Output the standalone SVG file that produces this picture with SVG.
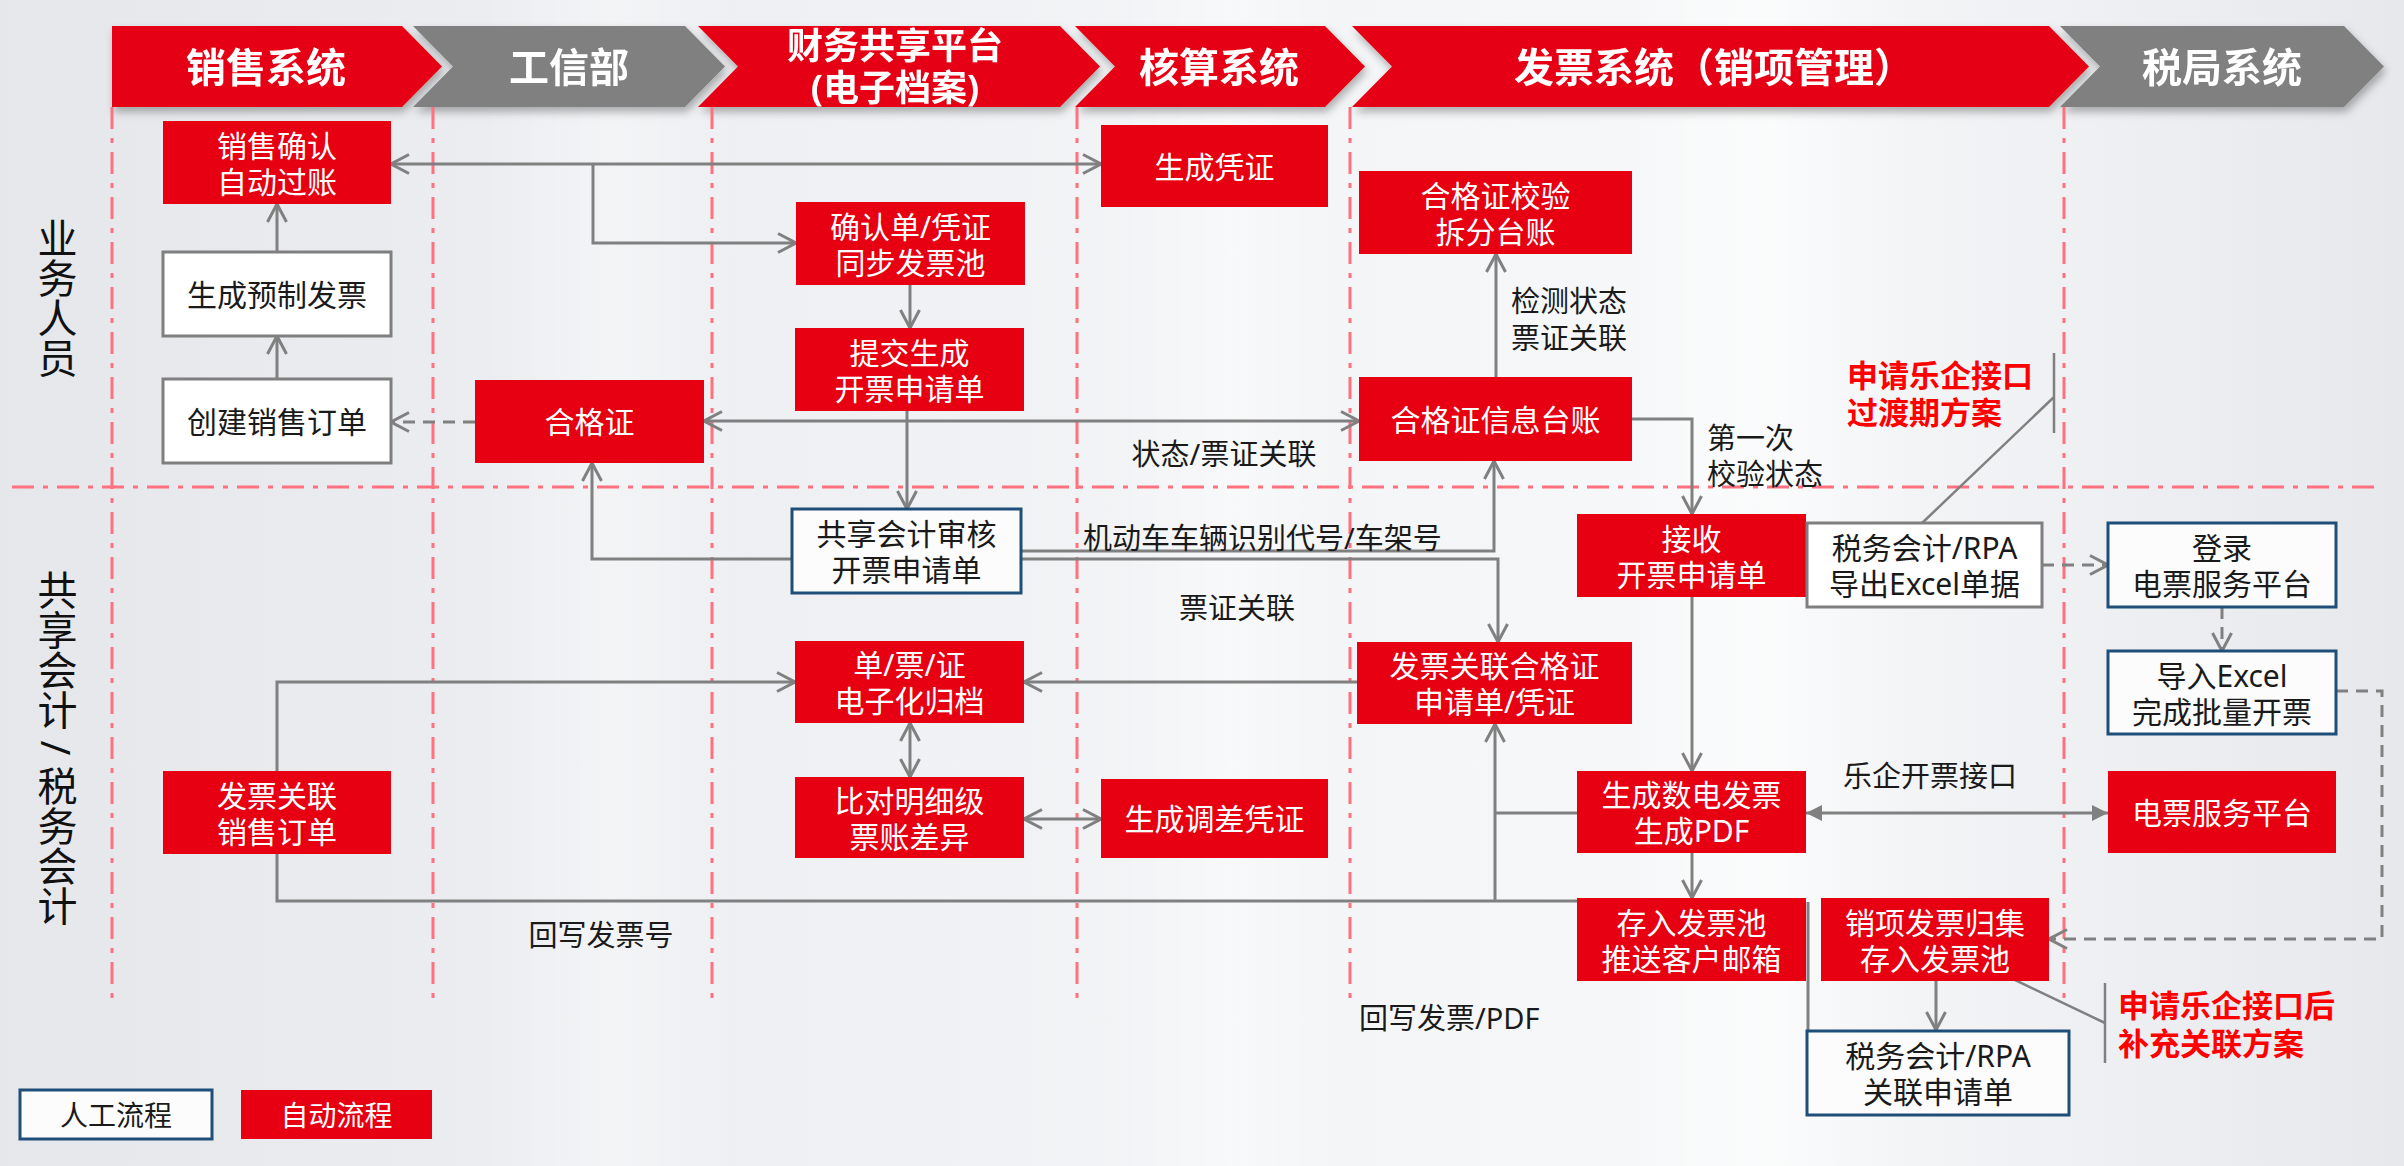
<svg xmlns="http://www.w3.org/2000/svg" width="2404" height="1166" viewBox="0 0 2404 1166">
<defs>
<linearGradient id="bg" x1="0" y1="0" x2="1" y2="0">
<stop offset="0" stop-color="#e5e7eb"/>
<stop offset="0.25" stop-color="#eceef1"/>
<stop offset="0.5" stop-color="#f3f4f6"/>
<stop offset="0.72" stop-color="#f7f8f9"/>
<stop offset="0.9" stop-color="#eceef1"/>
<stop offset="1" stop-color="#e6e8ec"/>
</linearGradient>
<linearGradient id="glow" x1="0" y1="0" x2="1" y2="0">
<stop offset="0" stop-color="#ffffff" stop-opacity="0"/>
<stop offset="0.5" stop-color="#ffffff" stop-opacity="0.7"/>
<stop offset="1" stop-color="#ffffff" stop-opacity="0"/>
</linearGradient>
<filter id="sh" x="-5%" y="-20%" width="110%" height="150%">
<feDropShadow dx="2" dy="5" stdDeviation="4" flood-color="#000" flood-opacity="0.3"/>
</filter>
<marker id="ao" viewBox="0 0 20 22" refX="19" refY="11" markerWidth="20" markerHeight="22" markerUnits="userSpaceOnUse" orient="auto-start-reverse">
<path d="M1,1.5 L19,11 L1,20.5" fill="none" stroke="#808080" stroke-width="3"/>
</marker>
<marker id="af" viewBox="0 0 16 16" refX="16" refY="8" markerWidth="16" markerHeight="16" markerUnits="userSpaceOnUse" orient="auto-start-reverse">
<path d="M0,0 L16,8 L0,16 Z" fill="#808080"/>
</marker>
<style>
text{font-family:"Noto Sans","Noto Sans CJK SC",sans-serif;}
.hd{fill:#fff;font-size:40px;font-weight:bold;text-anchor:middle;dominant-baseline:central;}
.hd2{fill:#fff;font-size:36px;font-weight:bold;text-anchor:middle;dominant-baseline:central;}
.r{fill:#E60012;}
.g{fill:#808080;}
.wg{fill:#ffffff;stroke:#7f7f7f;stroke-width:3;}
.wb{fill:#fcfcfc;stroke:#1F4E79;stroke-width:3;}
.tw{fill:#ffffff;font-size:30px;text-anchor:middle;dominant-baseline:central;}
.tk{fill:#1a1a1a;font-size:30px;text-anchor:middle;dominant-baseline:central;}
.lb{fill:#1a1a1a;font-size:29px;dominant-baseline:central;}
.lbm{fill:#1a1a1a;font-size:29px;text-anchor:middle;dominant-baseline:central;}
.rd{fill:#FF0000;font-size:31px;font-weight:bold;dominant-baseline:central;}
.lane{fill:#111;font-size:40px;writing-mode:vertical-rl;text-anchor:middle;}
.c{fill:none;stroke:#808080;stroke-width:3;}
.cd{fill:none;stroke:#808080;stroke-width:3;stroke-dasharray:12 8;}
.sep{fill:none;stroke:#FF717F;stroke-width:3;stroke-dasharray:22 9 5 9;}
.an{fill:none;stroke:#808080;stroke-width:2.5;}
</style>
</defs>

<rect x="0" y="0" width="2404" height="1166" fill="url(#bg)"/>
<rect x="480" y="0" width="260" height="1166" fill="url(#glow)" opacity="0.5"/>
<rect x="1120" y="0" width="220" height="1166" fill="url(#glow)" opacity="0.6"/>
<rect x="1620" y="0" width="300" height="1166" fill="url(#glow)" opacity="0.7"/>

<g id="header" filter="url(#sh)">
<g id="h1"><path class="r" d="M112,26 H402 L442,66.5 L402,107 H112 Z"/><text class="hd" x="266" y="66">销售系统</text></g>
<g id="h2"><path class="g" d="M413,26 H685 L725,66.5 L685,107 H413 L453,66.5 Z"/><text class="hd" x="569" y="66">工信部</text></g>
<g id="h3"><path class="r" d="M698,26 H1060 L1100,66.5 L1060,107 H698 L738,66.5 Z"/><text class="hd2" x="895" y="45"><tspan x="895" y="45">财务共享平台</tspan><tspan x="895" y="87">(电子档案)</tspan></text></g>
<g id="h4"><path class="r" d="M1075,26 H1325 L1365,66.5 L1325,107 H1075 L1115,66.5 Z"/><text class="hd" x="1219" y="66">核算系统</text></g>
<g id="h5"><path class="r" d="M1352,26 H2049 L2089,66.5 L2049,107 H1352 L1392,66.5 Z"/><text class="hd" x="1714" y="66">发票系统（销项管理）</text></g>
<g id="h6"><path class="g" d="M2060,26 H2344 L2384,66.5 L2344,107 H2060 L2100,66.5 Z"/><text class="hd" x="2222" y="66">税局系统</text></g>
</g>

<g id="lanes">
<path class="sep" d="M112,107 V1005 M433,107 V1005 M712,107 V1005 M1077,107 V1005 M1350,107 V1005 M2064,107 V1005"/>
<path class="sep" d="M12,487 H2380"/>
<text class="lane" x="56" y="298">业务人员</text>
<text class="lane" x="56" y="748">共享会计 / 税务会计</text>
</g>

<g id="connectors">
<path class="c" d="M391,164 H1101" marker-start="url(#ao)" marker-end="url(#ao)"/>
<path class="c" d="M593,164 V243 H796" marker-end="url(#ao)"/>
<path class="c" d="M910,285 V328" marker-end="url(#ao)"/>
<path class="c" d="M907,411 V509" marker-end="url(#ao)"/>
<path class="c" d="M277,252 V204" marker-end="url(#ao)"/>
<path class="c" d="M277,379 V336" marker-end="url(#ao)"/>
<path class="cd" d="M475,422 H391" marker-end="url(#ao)"/>
<path class="c" d="M704,421 H1359" marker-start="url(#ao)" marker-end="url(#ao)"/>
<path class="c" d="M1496,377 V254" marker-end="url(#ao)"/>
<path class="c" d="M1632,419 H1692 V514" marker-end="url(#ao)"/>
<path class="c" d="M792,559 H592 V463" marker-end="url(#ao)"/>
<path class="c" d="M1021,551 H1494 V461" marker-end="url(#ao)"/>
<path class="c" d="M1021,559 H1498 V642" marker-end="url(#ao)"/>
<path class="c" d="M1357,682 H1024" marker-end="url(#ao)"/>
<path class="c" d="M910,723 V777" marker-start="url(#ao)" marker-end="url(#ao)"/>
<path class="c" d="M1024,819 H1101" marker-start="url(#ao)" marker-end="url(#ao)"/>
<path class="c" d="M1577,901 H277 V682 H795" marker-end="url(#ao)"/>
<path class="c" d="M1495,901 V724" marker-end="url(#ao)"/>
<path class="c" d="M1577,813 H1495"/>
<path class="c" d="M1692,597 V771" marker-end="url(#ao)"/>
<path class="c" d="M1692,853 V898" marker-end="url(#ao)"/>
<path class="c" d="M1806,813 H2108" marker-start="url(#af)" marker-end="url(#af)"/>
<path class="c" d="M1797,546 L1807,562 L1817,546"/>
<path class="cd" d="M2042,565 H2108" marker-end="url(#ao)"/>
<path class="cd" d="M2222,607 V651" marker-end="url(#ao)"/>
<path class="cd" d="M2336,691 H2382 V939 H2049" marker-end="url(#ao)"/>
<path class="c" d="M1936,981 V1030" marker-end="url(#ao)"/>
<path class="c" d="M1808,902 V1078"/>
</g>

<g id="labels">
<text class="lbm" x="1224" y="453">状态/票证关联</text>
<text class="lb" x="1511" y="300"><tspan x="1511" y="300">检测状态</tspan><tspan x="1511" y="337">票证关联</tspan></text>
<text class="lb" x="1707" y="437"><tspan x="1707" y="437">第一次</tspan><tspan x="1707" y="473">校验状态</tspan></text>
<text class="lb" x="1083" y="537">机动车车辆识别代号/车架号</text>
<text class="lbm" x="1237" y="607">票证关联</text>
<text class="lbm" x="1930" y="775">乐企开票接口</text>
<text class="lbm" x="601" y="934">回写发票号</text>
<text class="lb" x="1359" y="1017">回写发票/PDF</text>
</g>

<g id="notes">
<path class="an" d="M2054,353 V433 M2054,397 L1920,525"/>
<text class="rd" x="1847" y="375"><tspan x="1847" y="375">申请乐企接口</tspan><tspan x="1847" y="412">过渡期方案</tspan></text>
<path class="an" d="M2105,983 V1063 M2105,1023 L1988,967"/>
<text class="rd" x="2118" y="1005"><tspan x="2118" y="1005">申请乐企接口后</tspan><tspan x="2118" y="1043">补充关联方案</tspan></text>
</g>

<g id="n1"><rect class="r" x="163" y="121" width="228" height="83"/><text class="tw" x="277" y="144.5"><tspan x="277" y="144.5">销售确认</tspan><tspan x="277" y="180.5">自动过账</tspan></text></g>
<g id="n2"><rect class="wg" x="163" y="252" width="228" height="84"/><text class="tk" x="277" y="294">生成预制发票</text></g>
<g id="n3"><rect class="wg" x="163" y="379" width="228" height="84"/><text class="tk" x="277" y="421">创建销售订单</text></g>
<g id="n4"><rect class="r" x="475" y="380" width="229" height="83"/><text class="tw" x="589.5" y="421.5">合格证</text></g>
<g id="n5"><rect class="r" x="796" y="202" width="229" height="83"/><text class="tw" x="910.5" y="225.5"><tspan x="910.5" y="225.5">确认单/凭证</tspan><tspan x="910.5" y="261.5">同步发票池</tspan></text></g>
<g id="n6"><rect class="r" x="795" y="328" width="229" height="83"/><text class="tw" x="909.5" y="351.5"><tspan x="909.5" y="351.5">提交生成</tspan><tspan x="909.5" y="387.5">开票申请单</tspan></text></g>
<g id="n7"><rect class="r" x="1101" y="125" width="227" height="82"/><text class="tw" x="1214.5" y="166">生成凭证</text></g>
<g id="n8"><rect class="r" x="1359" y="171" width="273" height="83"/><text class="tw" x="1495.5" y="194.5"><tspan x="1495.5" y="194.5">合格证校验</tspan><tspan x="1495.5" y="230.5">拆分台账</tspan></text></g>
<g id="n9"><rect class="r" x="1359" y="377" width="273" height="84"/><text class="tw" x="1495.5" y="419">合格证信息台账</text></g>
<g id="n10"><rect class="wb" x="792" y="509" width="229" height="84"/><text class="tk" x="906.5" y="533"><tspan x="906.5" y="533">共享会计审核</tspan><tspan x="906.5" y="569">开票申请单</tspan></text></g>
<g id="n11"><rect class="r" x="795" y="641" width="229" height="82"/><text class="tw" x="909.5" y="664"><tspan x="909.5" y="664">单/票/证</tspan><tspan x="909.5" y="700">电子化归档</tspan></text></g>
<g id="n12"><rect class="r" x="795" y="777" width="229" height="81"/><text class="tw" x="909.5" y="799.5"><tspan x="909.5" y="799.5">比对明细级</tspan><tspan x="909.5" y="835.5">票账差异</tspan></text></g>
<g id="n13"><rect class="r" x="1101" y="779" width="227" height="79"/><text class="tw" x="1214.5" y="818.5">生成调差凭证</text></g>
<g id="n14"><rect class="r" x="163" y="771" width="228" height="83"/><text class="tw" x="277" y="794.5"><tspan x="277" y="794.5">发票关联</tspan><tspan x="277" y="830.5">销售订单</tspan></text></g>
<g id="n15"><rect class="r" x="1357" y="642" width="275" height="82"/><text class="tw" x="1494.5" y="665"><tspan x="1494.5" y="665">发票关联合格证</tspan><tspan x="1494.5" y="701">申请单/凭证</tspan></text></g>
<g id="n16"><rect class="r" x="1577" y="514" width="229" height="83"/><text class="tw" x="1691.5" y="537.5"><tspan x="1691.5" y="537.5">接收</tspan><tspan x="1691.5" y="573.5">开票申请单</tspan></text></g>
<g id="n17"><rect class="wg" x="1807" y="523" width="235" height="84"/><text class="tk" x="1924.5" y="547"><tspan x="1924.5" y="547">税务会计/RPA</tspan><tspan x="1924.5" y="583">导出Excel单据</tspan></text></g>
<g id="n18"><rect class="wb" x="2108" y="523" width="228" height="84"/><text class="tk" x="2222" y="547"><tspan x="2222" y="547">登录</tspan><tspan x="2222" y="583">电票服务平台</tspan></text></g>
<g id="n19"><rect class="wb" x="2108" y="651" width="228" height="83"/><text class="tk" x="2222" y="674.5"><tspan x="2222" y="674.5">导入Excel</tspan><tspan x="2222" y="710.5">完成批量开票</tspan></text></g>
<g id="n20"><rect class="r" x="2108" y="771" width="228" height="82"/><text class="tw" x="2222" y="812">电票服务平台</text></g>
<g id="n21"><rect class="r" x="1577" y="771" width="229" height="82"/><text class="tw" x="1691.5" y="794"><tspan x="1691.5" y="794">生成数电发票</tspan><tspan x="1691.5" y="830">生成PDF</tspan></text></g>
<g id="n22"><rect class="r" x="1577" y="898" width="229" height="83"/><text class="tw" x="1691.5" y="921.5"><tspan x="1691.5" y="921.5">存入发票池</tspan><tspan x="1691.5" y="957.5">推送客户邮箱</tspan></text></g>
<g id="n23"><rect class="r" x="1821" y="898" width="228" height="83"/><text class="tw" x="1935" y="921.5"><tspan x="1935" y="921.5">销项发票归集</tspan><tspan x="1935" y="957.5">存入发票池</tspan></text></g>
<g id="n24"><rect class="wb" x="1807" y="1031" width="262" height="84"/><text class="tk" x="1938" y="1055"><tspan x="1938" y="1055">税务会计/RPA</tspan><tspan x="1938" y="1091">关联申请单</tspan></text></g>

<g id="legend">
<g id="lg1"><rect class="wb" x="20" y="1090" width="192" height="49"/><text class="tk" x="116" y="1114.5" style="font-size:28px">人工流程</text></g>
<g id="lg2"><rect class="r" x="241" y="1090" width="191" height="49"/><text class="tw" x="336.5" y="1114.5" style="font-size:28px">自动流程</text></g>
</g>
</svg>
